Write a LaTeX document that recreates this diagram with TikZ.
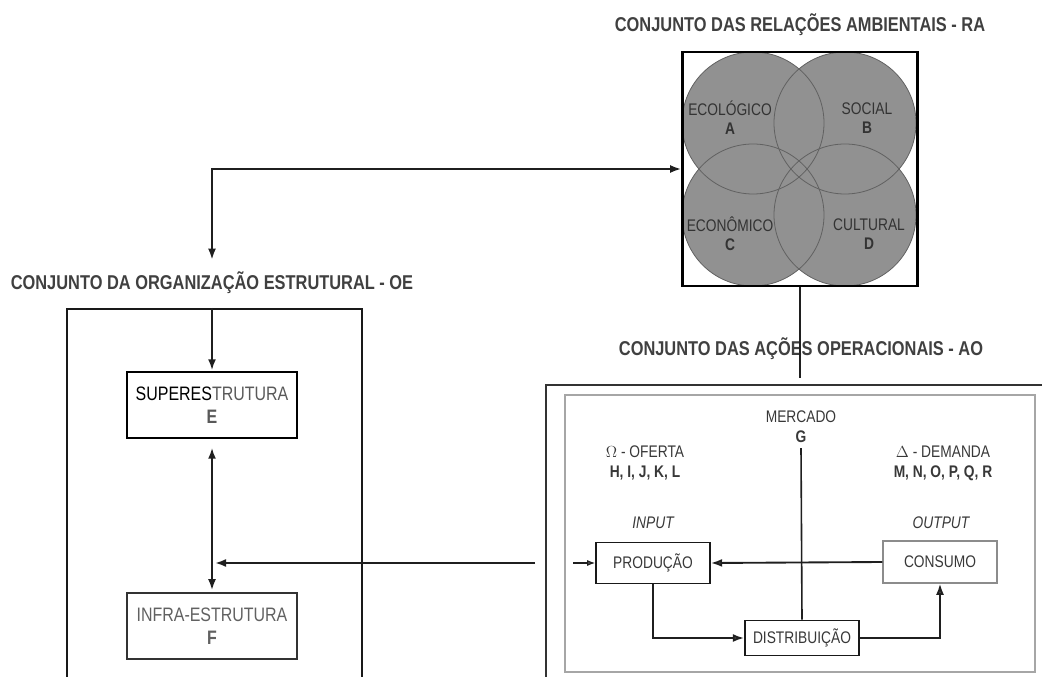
\documentclass[tikz,border=0pt]{standalone}
\usepackage{fontspec}
\setmainfont{Liberation Sans}[FakeStretch=0.82]
\usetikzlibrary{arrows.meta}
\begin{document}
\begin{tikzpicture}[
		x={(0.75pt,0pt)},
		y={(0pt,-0.75pt)},
		settitle/.style={font=\bfseries\fontsize{15}{17}\selectfont,text=black!75,anchor=base,inner sep=1pt},
		lbl/.style={font=\fontsize{12.6}{15}\selectfont,text=black!78,align=center,inner sep=0pt},
		oebox/.style={font=\fontsize{14.6}{17}\selectfont,align=center,line width=1.6pt,minimum width=128pt,minimum height=50pt,inner sep=0pt},
		flowbox/.style={font=\fontsize{12.6}{14}\selectfont,text=black!78,line width=1.3pt,minimum width=85.5pt,inner sep=0pt},
		conn/.style={line width=1.7pt,draw=black!88,-{Latex[length=8.5pt,width=6pt,fill=black!70]}},
		twoway/.style={{Latex[length=8.5pt,width=6pt,fill=black!70]}-{Latex[length=8.5pt,width=6pt,fill=black!70]}},
	]
		\useasboundingbox (0,0) rectangle (1042,677);
		
		% relacoes ambientais
		\node[settitle] (ratitle) at (800,32) {CONJUNTO DAS RELAÇÕES AMBIENTAIS - RA};
		\foreach \cx/\cy in {753/123, 845/123, 753/215, 845/215}{
			\fill[black!43] (\cx,\cy) circle[radius=53.25pt];
		}
		\foreach \cx/\cy in {753/123, 845/123, 753/215, 845/215}{
			\draw[black!62,line width=0.6pt] (\cx,\cy) circle[radius=53.25pt];
		}
		\node[draw=black,line width=1.6pt,minimum width=176.25pt,minimum height=175.5pt] (ra) at (800,169) {};
		\foreach \nm/\x/\y/\txt/\ltr in {eco/730/118/ECOLÓGICO/A, soc/867/118/SOCIAL/B, econ/730/234/ECONÔMICO/C, cult/869/234/CULTURAL/D}{
			\node[lbl,text=black!80,font=\fontsize{12.6}{14.25}\selectfont] (\nm) at (\x,\y) {\txt\\\textbf{\ltr}};
		}
		
		% organizacao estrutural
		\node[settitle] (oetitle) at (212,290) {CONJUNTO DA ORGANIZAÇÃO ESTRUTURAL - OE};
		\draw[line width=1.6pt,black!90] (67,677) -- (67,309) -- (362,309) -- (362,677);
		\node[oebox,draw=black,text=black!65] (super) at (212,405) {\textcolor{black}{SUPERES}TRUTURA\\\textbf{E}};
		\node[oebox,draw=black!80,text=black!62,line width=1.3pt] (infra) at (212,626) {INFRA-ESTRUTURA\\\textbf{F}};
		\coordinate (oejoin) at (212,563);
		
		% acoes operacionais
		\node[settitle] (aotitle) at (801,355) {CONJUNTO DAS AÇÕES OPERACIONAIS - AO};
		\draw[line width=2pt,black!80] (1042,385) -- (546,385) -- (546,677);
		\draw[line width=0.8pt,black!35] (565,395) rectangle (1035,672);
		\coordinate (aotop) at (800,378);
		\coordinate (aoin) at (535,563);
		\coordinate (prodin) at (573,563);
		
		\node[lbl] (mercado) at (801,427) {MERCADO\\\textbf{G}};
		\node[lbl] (oferta) at (645,463) {$\Omega$ - OFERTA\\\textbf{H, I, J, K, L}};
		\node[lbl] (demanda) at (943,463) {$\Delta$ - DEMANDA\\\textbf{M, N, O, P, Q, R}};
		\node[lbl,font=\itshape\fontsize{12.6}{14}\selectfont] (input) at (653,523) {INPUT};
		\node[lbl,font=\itshape\fontsize{12.6}{14}\selectfont] (output) at (941,523) {OUTPUT};
		
		\node[flowbox,draw=black!90,minimum height=30.75pt] (prod) at (653,563) {PRODUÇÃO};
		\node[flowbox,draw=black!45,line width=0.8pt,minimum height=31.5pt] (cons) at (940,562) {CONSUMO};
		\node[flowbox,draw=black!90,minimum height=26.25pt] (dist) at (802,638) {DISTRIBUIÇÃO};
		
		% ligacoes
		\draw[conn,twoway,shorten <=8pt] (oetitle.north) |- (ra.west);
		\draw[conn,shorten <=9pt] (oetitle.south) -- (super.north);
		\draw[conn,twoway,shorten <=6pt,shorten >=1pt] (super.south) -- (infra.north);
		\draw[conn,shorten >=2pt] (aoin) -- (oejoin);
		\draw[conn,-] (ra.south) -- (aotop);
		
		\draw[conn,line width=0.8pt,-{Latex[length=6pt,width=4.5pt,fill=black!70]}] (prodin) -- (prod.west);
		\draw[conn,line width=1.4pt] (cons.west) -- (prod.east);
		\draw[conn,-,line width=1.2pt] (mercado.south) ++(0,5) -- (dist.north);
		\draw[conn,line width=1.4pt] (prod.south) |- (dist.west);
		\draw[conn,line width=1.4pt] (dist.east) -| (cons.south);
	\end{tikzpicture}
\end{document}
